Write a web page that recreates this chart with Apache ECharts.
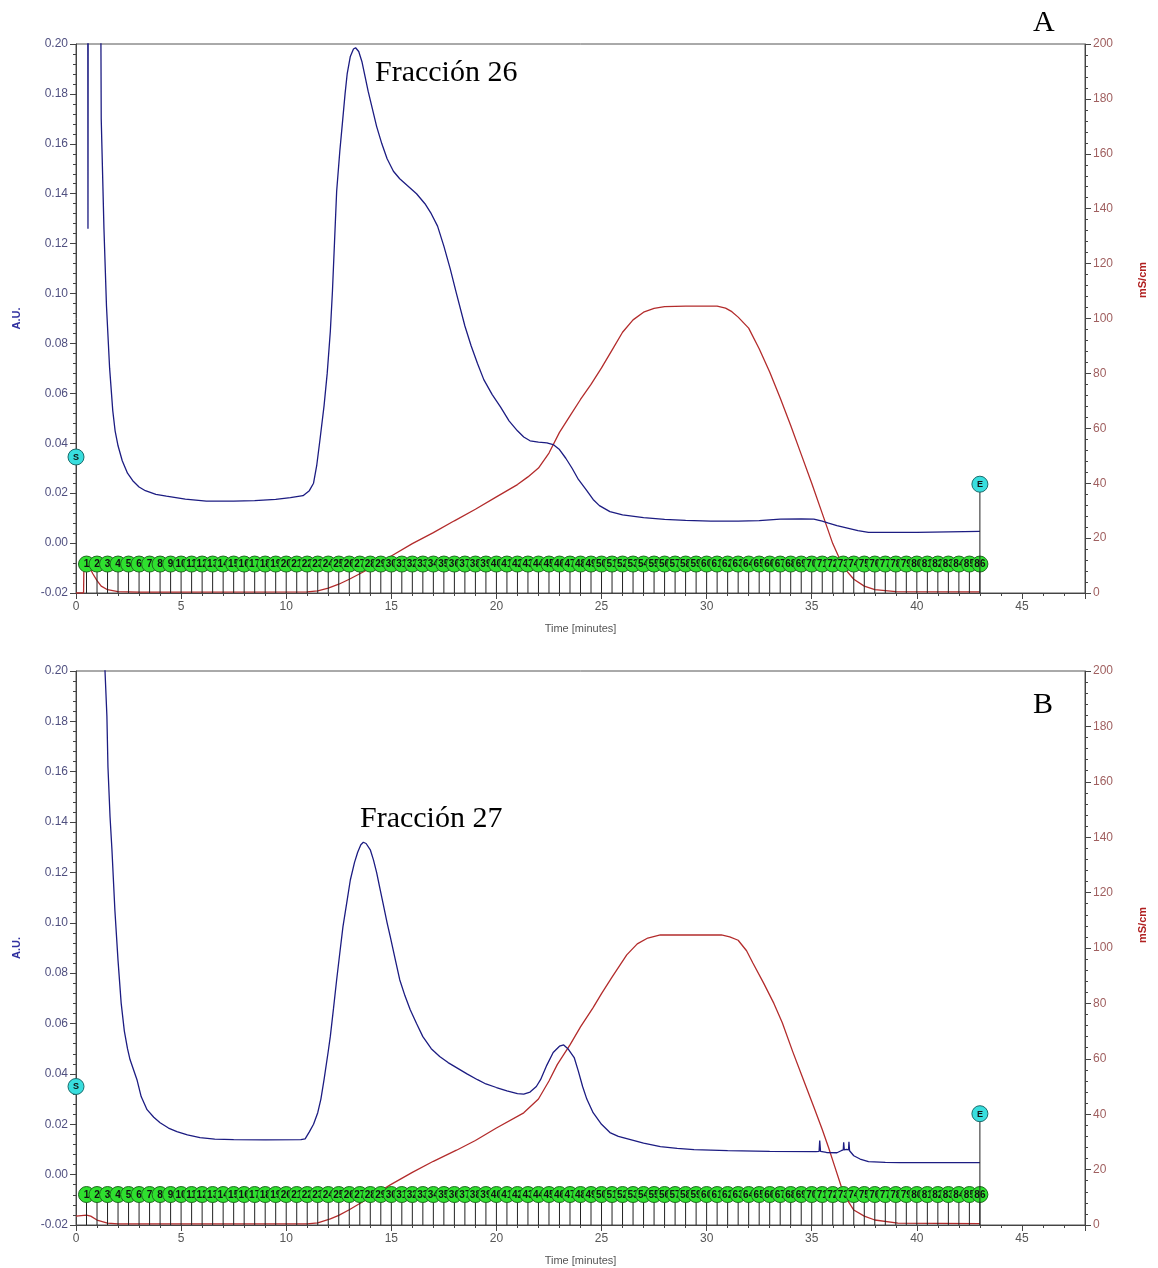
<!DOCTYPE html>
<html>
<head>
<meta charset="utf-8">
<script src="https://cdn.jsdelivr.net/npm/echarts@6/dist/echarts.min.js"></script>
<style>
  html, body { margin: 0; padding: 0; background: #fff; }
  #chart { width: 1158px; height: 1268px; }
</style>
</head>
<body>
<div id="chart"></div>
<script>
// Panel A: absorbance (A.U.) and conductivity (mS/cm) against time (minutes)
const timeBlueA = [0.55, 0.57, 0.59, 1.14, 1.2, 1.33, 1.45, 1.6, 1.75, 1.86, 2.0, 2.2, 2.45, 2.7, 3.0, 3.3, 3.8, 4.3, 5.2, 6.2, 7.5, 8.5, 9.5, 10.2, 10.8,
  11.1, 11.3, 11.45, 11.6, 11.8, 11.95, 12.1, 12.2, 12.3, 12.4, 12.55, 12.67, 12.8, 12.9, 13.05, 13.2, 13.3, 13.45, 13.6, 13.75, 13.9,
  14.1, 14.3, 14.55, 14.8, 15.1, 15.4, 15.8, 16.2, 16.6, 16.9, 17.2, 17.5, 17.8, 18.1, 18.5, 18.8, 19.1, 19.4, 19.8, 20.2, 20.6, 21.0,
  21.3, 21.6, 22.0, 22.4, 22.7, 23.0, 23.3, 23.6, 23.9, 24.3, 24.6, 24.9, 25.4, 26.0, 27.0, 28.0, 29.0, 30.2, 31.5, 32.5, 33.5, 34.5,
  35.1, 35.5, 35.8, 36.2, 36.7, 37.2, 37.7, 38.5, 40.0, 41.5, 43.0];
const blueA = [0.3, 0.126, 0.3, 0.3, 0.17, 0.126, 0.095, 0.07, 0.053, 0.045, 0.039, 0.033, 0.028, 0.025, 0.0225, 0.021, 0.0195, 0.0188, 0.0176, 0.0168, 0.0168, 0.017, 0.0175, 0.0182, 0.019,
  0.021, 0.024, 0.031, 0.041, 0.055, 0.068, 0.085, 0.101, 0.121, 0.141, 0.157, 0.168, 0.18, 0.188, 0.195, 0.198, 0.1985, 0.197, 0.193, 0.187, 0.181,
  0.174, 0.167, 0.16, 0.154, 0.149, 0.146, 0.143, 0.14, 0.136, 0.132, 0.127, 0.119, 0.11, 0.1, 0.087, 0.079, 0.072, 0.0655, 0.0595, 0.0545, 0.049, 0.045,
  0.0425, 0.041, 0.0405, 0.0402, 0.0395, 0.0375, 0.034, 0.03, 0.0255, 0.021, 0.0175, 0.015, 0.0126, 0.0113, 0.0102, 0.0095, 0.0091, 0.0088, 0.0088, 0.009, 0.0096, 0.0097,
  0.0096, 0.0088, 0.008, 0.007, 0.006, 0.005, 0.0043, 0.0043, 0.0043, 0.0045, 0.0047];
const timeRedA = [0, 0.36, 0.38, 0.44, 0.6, 0.8, 1.0, 1.2, 1.5, 2.0, 3.0, 11.0, 11.5, 12.0, 12.5, 13.0, 13.5, 14.0, 14.5, 15.0, 16.0, 17.0, 18.0, 19.0, 20.0,
  21.0, 21.5, 22.0, 22.5, 23.0, 23.5, 24.0, 24.5, 25.0, 25.5, 26.0, 26.5, 27.0, 27.5, 28.0, 29.0, 30.5, 30.9, 31.2, 31.5, 32.0, 32.5, 33.0,
  33.5, 34.0, 34.5, 35.0, 35.5, 36.0, 36.5, 37.0, 37.5, 38.0, 39.0, 43.0];
const redA = [0, 0, 12, 12, 10, 7, 4.5, 2.5, 1.2, 0.5, 0.3, 0.4, 0.8, 1.8, 3.2, 5, 7, 9, 11, 13.5, 18, 22, 26.3, 30.5, 35,
  39.5, 42.3, 45.5, 51, 58.5, 64.5, 70.5, 76, 82, 88.5, 95, 99.5, 102.3, 103.7, 104.3, 104.5, 104.5, 103.8, 102.5, 100.5, 96.5, 89, 80.5,
  71, 61, 50.5, 40, 29, 18, 9.5, 5, 2.5, 1.2, 0.5, 0.4];

// Panel B
const timeBlueB = [1.3, 1.38, 1.47, 1.52, 1.62, 1.71, 1.85, 2.0, 2.15, 2.3, 2.45, 2.57, 2.9, 3.1, 3.38, 3.7, 4.0, 4.4, 4.8, 5.3, 5.9, 6.6, 7.5, 9.0, 10.7,
  10.9, 11.1, 11.3, 11.5, 11.65, 11.8, 12.0, 12.1, 12.25, 12.4, 12.55, 12.7, 12.9, 13.05, 13.25, 13.4, 13.55, 13.67, 13.8, 14.0, 14.15, 14.3,
  14.45, 14.6, 14.8, 14.95, 15.2, 15.4, 15.65, 15.9, 16.2, 16.5, 16.9, 17.3, 17.7, 18.1, 18.6, 19.1, 19.5, 20.0, 20.5, 21.0, 21.3, 21.6,
  21.9, 22.1, 22.4, 22.7, 23.0, 23.2, 23.4, 23.7, 23.9, 24.1, 24.3, 24.6, 25.0, 25.4, 25.8, 26.2, 27.0, 27.8, 28.6, 29.4, 31.0, 33.0, 35.2,
  35.35, 35.38, 35.42, 35.7, 36.2, 36.4, 36.5, 36.52, 36.55, 36.65, 36.75, 36.77, 36.8, 37.0, 37.3, 37.7, 38.5, 39.2, 43.0];
const blueB = [0.24, 0.2, 0.182, 0.162, 0.142, 0.129, 0.105, 0.085, 0.068, 0.057, 0.05, 0.0457, 0.0377, 0.031, 0.0258, 0.0228, 0.0206, 0.0185, 0.0171, 0.0158, 0.0147, 0.0141, 0.0139, 0.0138, 0.0139,
  0.0142, 0.017, 0.02, 0.0246, 0.03, 0.0377, 0.049, 0.055, 0.066, 0.0774, 0.088, 0.0985, 0.109, 0.117, 0.124, 0.128, 0.131, 0.132, 0.1315, 0.129, 0.125, 0.12,
  0.114, 0.108, 0.1, 0.0945, 0.085, 0.0774, 0.071, 0.0655, 0.06, 0.0548, 0.05, 0.0469, 0.0445, 0.0425, 0.04, 0.0377, 0.036, 0.0346, 0.0333, 0.0322, 0.032, 0.0328,
  0.035, 0.0377, 0.0435, 0.0485, 0.051, 0.0515, 0.05, 0.0465, 0.041, 0.035, 0.03, 0.0246, 0.02, 0.0167, 0.0152, 0.0143, 0.0125, 0.0111, 0.0104, 0.0099, 0.0095, 0.0092, 0.0091,
  0.0092, 0.0135, 0.0092, 0.0088, 0.0087, 0.0095, 0.0098, 0.0128, 0.0098, 0.01, 0.0098, 0.013, 0.0095, 0.0075, 0.0062, 0.0052, 0.0049, 0.0048, 0.0048];
const timeRedB = [0, 0.5, 0.7, 1.0, 1.5, 2.0, 11.0, 11.5, 12.1, 12.5, 13.0, 14.0, 14.95, 16.0, 17.0, 18.1, 19.0, 20.0, 21.3, 22.0, 22.5, 22.9, 23.5, 24.0, 24.6,
  25.0, 25.5, 26.2, 26.7, 27.2, 27.8, 30.7, 31.1, 31.5, 31.9, 32.2, 32.7, 33.2, 33.6, 34.1, 34.6, 35.1, 35.5, 35.8, 36.1, 36.4, 36.7, 37.0,
  37.5, 38.0, 39.1, 43.0];
const redB = [3.2, 3.6, 3.2, 1.8, 0.7, 0.4, 0.4, 0.8, 2.2, 3.5, 5.5, 10, 14.5, 19, 23, 27, 30.5, 35, 40.5, 45.5, 52, 58, 65, 71.5, 78.5,
  83.5, 89.5, 97.5, 101.5, 103.6, 104.7, 104.7, 104, 102.8, 99, 94.6, 87.5, 80, 73, 62.5, 52.5, 42.6, 34.5, 28, 21, 14, 9, 5.4,
  3.2, 1.8, 0.7, 0.5];

// fraction collector marks (number, time in minutes)
const fractionLabels = [1, 2, 3, 4, 5, 6, 7, 8, 9, 10, 11, 12, 13, 14, 15, 16, 17, 18, 19, 20, 21, 22, 23, 24, 25, 26, 27, 28, 29, 30,
  31, 32, 33, 34, 35, 36, 37, 38, 39, 40, 41, 42, 43, 44, 45, 46, 47, 48, 49, 50, 51, 52, 53, 54, 55, 56, 57, 58, 59, 60,
  61, 62, 63, 64, 65, 66, 67, 68, 69, 70, 71, 72, 73, 74, 75, 76, 77, 78, 79, 80, 81, 82, 83, 84, 85, 86];
const fractionTimes = [0.5, 1, 1.5, 2, 2.5, 3, 3.5, 4, 4.5, 5, 5.5, 6, 6.5, 7, 7.5, 8, 8.5, 9, 9.5, 10, 10.5, 11, 11.5, 12, 12.5, 13, 13.5, 14, 14.5, 15,
  15.5, 16, 16.5, 17, 17.5, 18, 18.5, 19, 19.5, 20, 20.5, 21, 21.5, 22, 22.5, 23, 23.5, 24, 24.5, 25, 25.5, 26, 26.5, 27, 27.5, 28, 28.5, 29, 29.5, 30,
  30.5, 31, 31.5, 32, 32.5, 33, 33.5, 34, 34.5, 35, 35.5, 36, 36.5, 37, 37.5, 38, 38.5, 39, 39.5, 40, 40.5, 41, 41.5, 42, 42.5, 43];
const fractionLevelA = -0.0084;
const fractionLevelB = -0.0079;

// start / end marks
const markLabels = ['S', 'E'];
const markTimes = [0, 43];
const markValuesA = [0.0345, 0.0236];
const markValuesB = [0.035, 0.0242];

const xTicks = [0, 5, 10, 15, 20, 25, 30, 35, 40, 45];

const chart = echarts.init(document.getElementById('chart'));

function zip(xs, ys) {
  return xs.map((x, i) => [x, ys[i]]);
}

function fractionSeries(gi, level) {
  return {
    type: 'custom',
    xAxisIndex: gi,
    yAxisIndex: gi * 2,
    z: 4,
    silent: true,
    data: fractionTimes.map(t => [t, level]),
    renderItem: function (params, api) {
      const c = api.coord([api.value(0), api.value(1)]);
      const base = api.coord([api.value(0), -0.02]);
      return {
        type: 'group',
        children: [
          { type: 'line', shape: { x1: c[0], y1: c[1], x2: base[0], y2: base[1] }, style: { stroke: '#222', lineWidth: 1 } },
          { type: 'circle', shape: { cx: c[0], cy: c[1], r: 8 }, style: { fill: '#2fe02f', stroke: '#1f6a1f', lineWidth: 1 } },
          { type: 'text', style: { text: String(fractionLabels[params.dataIndex]), x: c[0], y: c[1] + 0.5, align: 'center', verticalAlign: 'middle', font: 'bold 10px "Liberation Sans"', fill: '#111' } }
        ]
      };
    }
  };
}

function markSeries(gi, values) {
  return {
    type: 'custom',
    xAxisIndex: gi,
    yAxisIndex: gi * 2,
    z: 6,
    clip: false,
    silent: true,
    data: zip(markTimes, values),
    renderItem: function (params, api) {
      const c = api.coord([api.value(0), api.value(1)]);
      const base = api.coord([api.value(0), -0.02]);
      const children = [];
      if (params.dataIndex === 1) {
        children.push({ type: 'line', shape: { x1: c[0], y1: c[1], x2: base[0], y2: base[1] }, style: { stroke: '#222', lineWidth: 1 } });
      }
      children.push({ type: 'circle', shape: { cx: c[0], cy: c[1], r: 8 }, style: { fill: '#38dede', stroke: '#1b6b6b', lineWidth: 1 } });
      children.push({ type: 'text', style: { text: markLabels[params.dataIndex], x: c[0], y: c[1] + 0.5, align: 'center', verticalAlign: 'middle', font: 'bold 9px "Liberation Sans"', fill: '#111' } });
      return { type: 'group', children: children };
    }
  };
}

function xAxisOf(gi) {
  return {
    gridIndex: gi,
    type: 'value',
    min: 0,
    max: 48,
    interval: 5,
    name: 'Time [minutes]',
    nameLocation: 'middle',
    nameGap: 30,
    nameTextStyle: { color: '#555', fontSize: 11, fontFamily: 'Liberation Sans' },
    axisLine: { onZero: false, lineStyle: { color: '#444' } },
    axisTick: { length: 6, lineStyle: { color: '#444' } },
    minorTick: { show: true, splitNumber: 5, length: 3, lineStyle: { color: '#444' } },
    splitLine: { show: false },
    axisLabel: {
      color: '#555', fontSize: 12, fontFamily: 'Liberation Sans', margin: 8, showMaxLabel: false,
      formatter: v => (xTicks.indexOf(v) >= 0 ? String(v) : '')
    }
  };
}

function leftAxisOf(gi) {
  return {
    gridIndex: gi,
    type: 'value',
    min: -0.02,
    max: 0.2,
    interval: 0.02,
    position: 'left',
    name: 'A.U.',
    nameLocation: 'middle',
    nameRotate: 90,
    nameGap: 54,
    nameTextStyle: { color: '#3232a0', fontSize: 11, fontWeight: 'bold', fontFamily: 'Liberation Sans' },
    axisLine: { show: true, lineStyle: { color: '#444' } },
    axisTick: { length: 6, lineStyle: { color: '#444' } },
    minorTick: { show: true, splitNumber: 5, length: 3, lineStyle: { color: '#444' } },
    splitLine: { show: false },
    axisLabel: { color: '#505080', fontSize: 12, fontFamily: 'Liberation Sans', margin: 8, formatter: v => v.toFixed(2) }
  };
}

function rightAxisOf(gi) {
  return {
    gridIndex: gi,
    type: 'value',
    min: 0,
    max: 200,
    interval: 20,
    position: 'right',
    axisLine: { show: true, lineStyle: { color: '#444' } },
    axisTick: { length: 6, lineStyle: { color: '#444' } },
    minorTick: { show: true, splitNumber: 5, length: 3, lineStyle: { color: '#444' } },
    splitLine: { show: false },
    axisLabel: { color: '#a06060', fontSize: 12, fontFamily: 'Liberation Sans', margin: 8 }
  };
}

function lineSeries(gi, yi, data, color) {
  return {
    type: 'line',
    xAxisIndex: gi,
    yAxisIndex: yi,
    data: data,
    showSymbol: false,
    symbol: 'none',
    clip: true,
    silent: true,
    z: 3,
    lineStyle: { color: color, width: 1.3 }
  };
}

const blueColor = '#1c1c82';
const redColor = '#b32c2c';

const option = {
  animation: false,
  backgroundColor: '#fff',
  grid: [
    { left: 76, right: 73, top: 44, height: 549, show: true, borderColor: '#555', borderWidth: 1, backgroundColor: '#fff' },
    { left: 76, right: 73, top: 671, height: 554, show: true, borderColor: '#555', borderWidth: 1, backgroundColor: '#fff' }
  ],
  xAxis: [xAxisOf(0), xAxisOf(1)],
  yAxis: [leftAxisOf(0), rightAxisOf(0), leftAxisOf(1), rightAxisOf(1)],
  series: [
    lineSeries(0, 1, zip(timeRedA, redA), redColor),
    lineSeries(0, 0, zip(timeBlueA, blueA), blueColor),
    fractionSeries(0, fractionLevelA),
    markSeries(0, markValuesA),
    lineSeries(1, 3, zip(timeRedB, redB), redColor),
    lineSeries(1, 2, zip(timeBlueB, blueB), blueColor),
    fractionSeries(1, fractionLevelB),
    markSeries(1, markValuesB)
  ],
  graphic: [
    { type: 'text', left: 1033, top: 8, style: { text: 'A', font: '30px "Liberation Serif"', fill: '#000' } },
    { type: 'text', left: 375, top: 58, style: { text: 'Fracción 26', font: '30px "Liberation Serif"', fill: '#000' } },
    { type: 'text', left: 1033, top: 690, style: { text: 'B', font: '30px "Liberation Serif"', fill: '#000' } },
    { type: 'text', left: 360, top: 804, style: { text: 'Fracción 27', font: '30px "Liberation Serif"', fill: '#000' } },
    { type: 'text', x: 1143, y: 280, rotation: Math.PI / 2, style: { text: 'mS/cm', font: 'bold 11px "Liberation Sans"', fill: '#b02020', align: 'center', verticalAlign: 'middle' } },
    { type: 'text', x: 1143, y: 925, rotation: Math.PI / 2, style: { text: 'mS/cm', font: 'bold 11px "Liberation Sans"', fill: '#b02020', align: 'center', verticalAlign: 'middle' } }
  ]
};

chart.setOption(option);
</script>
</body>
</html>
